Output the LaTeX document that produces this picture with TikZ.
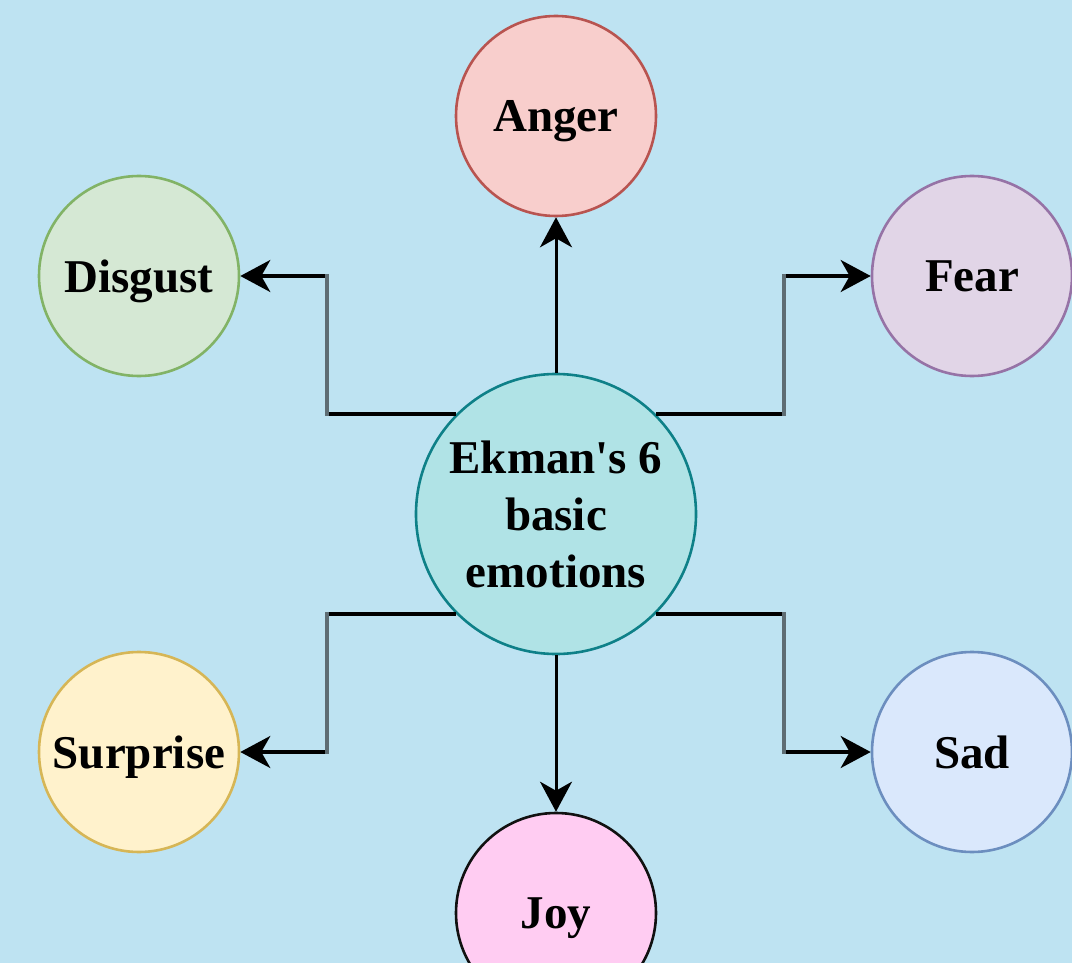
\documentclass[tikz,border=0pt]{standalone}
\usepackage{fontspec}
\setmainfont[Ligatures=NoCommon]{Liberation Serif}
\usetikzlibrary{arrows.meta,calc}
\definecolor{bg}{HTML}{BEE3F2}
\definecolor{cfill}{HTML}{B0E3E6}\definecolor{cline}{HTML}{0E8088}
\definecolor{afill}{HTML}{F8CECC}\definecolor{aline}{HTML}{B85450}
\definecolor{dfill}{HTML}{D5E8D4}\definecolor{dline}{HTML}{82B366}
\definecolor{ffill}{HTML}{E1D5E7}\definecolor{fline}{HTML}{9673A6}
\definecolor{sfill}{HTML}{FFF2CC}\definecolor{sline}{HTML}{D6B656}
\definecolor{qfill}{HTML}{DAE8FC}\definecolor{qline}{HTML}{6C8EBF}
\definecolor{jfill}{HTML}{FFCCF2}\definecolor{jline}{HTML}{111111}
\definecolor{vgrey}{HTML}{5E6D74}
\tikzset{
  emo/.style={circle, draw, line width=2.6pt, inner sep=0pt, minimum size=200pt,
    text depth=0pt, font=\fontsize{47}{57}\selectfont\bfseries},
  arr/.style={line width=3.4pt, draw=black, -{Stealth[length=30pt,width=32pt,inset=9pt]}},
  vseg/.style={line width=4.6pt, draw=vgrey}
}
\begin{document}
\begin{tikzpicture}[x=1pt,y=-1pt]
\fill[bg] (0,0) rectangle (1072,963);
\useasboundingbox (0,0) rectangle (1072,963);
\node[circle, draw=cline, line width=2.6pt, inner sep=0pt, minimum size=280pt, fill=cfill,
  align=center, font=\fontsize{47}{57}\selectfont\bfseries] (c) at (556,514) {Ekman\textquotesingle s 6\\basic\\emotions};
\node[emo, fill=afill, draw=aline] (ang) at (556,116) {Anger};
\node[emo, fill=dfill, draw=dline] (dis) at (139,276) {Disgust};
\node[emo, fill=ffill, draw=fline] (fea) at (972,276) {Fear};
\node[emo, fill=sfill, draw=sline] (sur) at (139,752) {Surprise};
\node[emo, fill=qfill, draw=qline] (sad) at (972,752) {Sad};
\node[emo, fill=jfill, draw=jline] (joy) at (556,913) {Joy};
\coordinate (k1) at ([xshift=-129pt]c.135);
\coordinate (k2) at ([xshift=128pt]c.45);
\coordinate (k3) at ([xshift=-129pt]c.225);
\coordinate (k4) at ([xshift=128pt]c.-45);
\draw[arr, line width=3pt] (c) -- (ang);
\draw[arr, line width=3pt] (c) -- (joy);
\draw[arr] (c.135) -- (k1) |- (dis);
\draw[arr] (c.45) -- (k2) |- (fea);
\draw[arr] (c.225) -- (k3) |- (sur);
\draw[arr] (c.-45) -- (k4) |- (sad);
\draw[vseg] ([yshift=-1.7pt]k1) -- ([yshift=1.7pt]k1 |- dis);
\draw[vseg] ([yshift=-1.7pt]k2) -- ([yshift=1.7pt]k2 |- fea);
\draw[vseg] ([yshift=1.7pt]k3) -- ([yshift=-1.7pt]k3 |- sur);
\draw[vseg] ([yshift=1.7pt]k4) -- ([yshift=-1.7pt]k4 |- sad);
\end{tikzpicture}
\end{document}
